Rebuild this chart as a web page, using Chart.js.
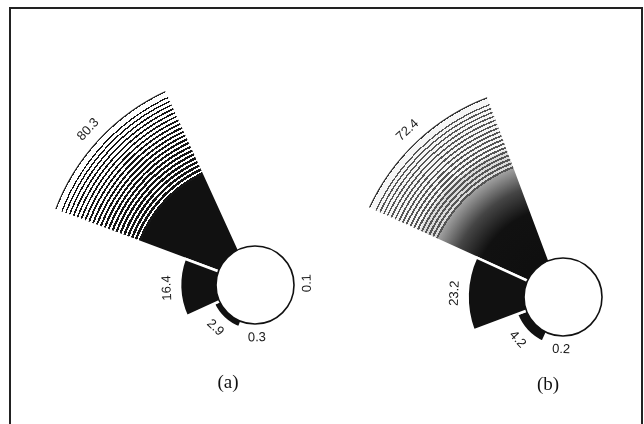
<!DOCTYPE html>
<html>
<head>
<meta charset="utf-8">
<script src="https://cdn.jsdelivr.net/npm/chart.js@4.4.0/dist/chart.umd.min.js"></script>
<style>
  html, body { margin: 0; padding: 0; background: #fff; width: 644px; height: 424px; overflow: hidden; position: relative; }
  #frame { position: absolute; left: 9px; top: 7px; width: 630px; height: 440px; border: 2px solid #222; border-bottom: none; }
  .box { position: absolute; width: 480px; height: 480px; }
  .cap { position: absolute; font-family: "Liberation Serif", serif; font-size: 19px; color: #111; transform: translate(-50%, -50%); }
</style>
</head>
<body>
<div id="frame"></div>
<div class="box" style="left:15px;top:45px"><canvas id="chartA" width="480" height="480"></canvas></div>
<div class="box" style="left:323px;top:57px"><canvas id="chartB" width="480" height="480"></canvas></div>
<div class="cap" style="left:228px;top:382px">(a)</div>
<div class="cap" style="left:548px;top:384px">(b)</div>
<script>
// sectors, clockwise from the big one
const sectors = ["S1", "S2", "S3", "S4", "S5", "S6", "S7", "S8"];
const valuesA = [80.3, 0, 0, 0.1, 0, 0.3, 2.9, 16.4];
const valuesB = [72.4, 0, 0, 0, 0, 0.2, 4.2, 23.2];

const HOLE = 39 / 215; // white hub as a share of the radius

// concentric hatching for the big sector
function hatchA(g, R) {
  const solid = 122, period = 4.2;
  g.addColorStop(0, "#111");
  g.addColorStop(solid / R, "#111");
  let s = solid;
  while (s + period < R - 4) {
    const t = (s - solid) / (R - solid);
    const lw = period * (0.62 - 0.34 * t);
    g.addColorStop(s / R, "#fff");
    g.addColorStop(s / R, "#161616");
    g.addColorStop((s + lw) / R, "#161616");
    g.addColorStop((s + lw) / R, "#fff");
    s += period;
  }
  g.addColorStop((R - 2.6) / R, "#fff");
  g.addColorStop((R - 2.6) / R, "#222");
  g.addColorStop(1, "#222");
  return g;
}

function hatchB(g, R) {
  const start = 138, period = 4.2;
  g.addColorStop(0, "#0d0d0d");
  g.addColorStop(90 / R, "#111");
  g.addColorStop(115 / R, "#454545");
  g.addColorStop(start / R, "#a0a0a0");
  let s = start;
  while (s + period < R - 4) {
    const t = (s - start) / (R - start);
    const lw = period * (0.5 - 0.2 * t);
    const bg = t < 0.25 ? "#dadada" : "#f6f6f6";
    g.addColorStop(s / R, bg);
    g.addColorStop(s / R, "#555");
    g.addColorStop((s + lw) / R, "#555");
    g.addColorStop((s + lw) / R, bg);
    s += period;
  }
  g.addColorStop((R - 2.6) / R, "#f6f6f6");
  g.addColorStop((R - 2.6) / R, "#333");
  g.addColorStop(1, "#333");
  return g;
}

function sectorFill(hatch) {
  return function (c) {
    if (c.type !== "data" || c.dataIndex !== 0) return "#111";
    const r = c.chart.scales.r;
    if (!r || !r.drawingArea) return "#111";
    const R = r.drawingArea;
    const g = c.chart.ctx.createRadialGradient(r.xCenter, r.yCenter, 0, r.xCenter, r.yCenter, R);
    return hatch(g, R);
  };
}

// white hub and the rotated value labels
const hubAndLabels = {
  id: "hubAndLabels",
  afterDatasetsDraw(chart) {
    const scale = chart.scales.r;
    const ctx = chart.ctx;
    const x = scale.xCenter, y = scale.yCenter;
    const r0 = scale.getDistanceFromCenterForValue(0);
    ctx.save();
    ctx.beginPath();
    ctx.arc(x, y, r0, 0, 2 * Math.PI);
    ctx.fillStyle = "#fff";
    ctx.fill();
    ctx.lineWidth = 1.6;
    ctx.strokeStyle = "#111";
    ctx.stroke();

    const meta = chart.getDatasetMeta(0);
    const data = chart.data.datasets[0].data;
    ctx.font = '13px "Liberation Sans", sans-serif';
    ctx.fillStyle = "#1a1a1a";
    ctx.textAlign = "center";
    ctx.textBaseline = "middle";
    meta.data.forEach((arc, i) => {
      if (!data[i]) return;
      const mid = (arc.startAngle + arc.endAngle) / 2;
      const d = arc.outerRadius + 13;
      let rot = mid + Math.PI / 2;
      rot = Math.atan2(Math.sin(rot), Math.cos(rot));
      if (rot > 80 * Math.PI / 180) rot -= Math.PI;
      else if (rot < -100 * Math.PI / 180) rot += Math.PI;
      ctx.save();
      ctx.translate(x + d * Math.cos(mid), y + d * Math.sin(mid));
      ctx.rotate(rot);
      ctx.fillText(data[i].toFixed(1), 0, 0);
      ctx.restore();
    });
    ctx.restore();
  }
};

function makeChart(id, values, startAngle, hatch) {
  const max = Math.max(...values);
  const min = -max * HOLE / (1 - HOLE);
  return new Chart(document.getElementById(id), {
    type: "polarArea",
    data: {
      labels: sectors,
      datasets: [{
        data: values,
        backgroundColor: sectorFill(hatch),
        borderColor: "#fff",
        borderWidth: 2.5
      }]
    },
    options: {
      responsive: false,
      animation: false,
      devicePixelRatio: 1,
      layout: { padding: 25 },
      events: [],
      plugins: { legend: { display: false }, tooltip: { enabled: false } },
      scales: {
        r: {
          min: min,
          max: max,
          startAngle: startAngle,
          ticks: { display: false },
          grid: { display: false },
          angleLines: { display: false },
          pointLabels: { display: false }
        }
      }
    },
    plugins: [hubAndLabels]
  });
}

makeChart("chartA", valuesA, 290.5, hatchA);
makeChart("chartB", valuesB, 294.5, hatchB);
</script>
</body>
</html>
